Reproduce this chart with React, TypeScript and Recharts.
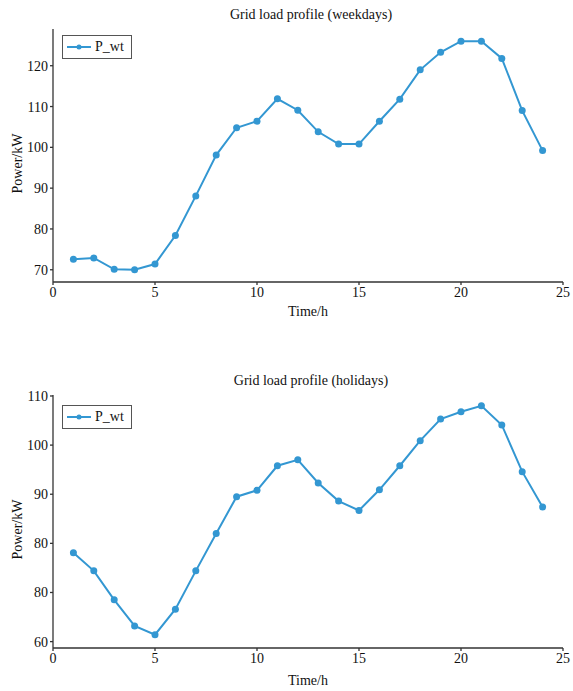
import React from "react";
import { LineChart, Line, XAxis, YAxis } from "recharts";

const hours = [1, 2, 3, 4, 5, 6, 7, 8, 9, 10, 11, 12, 13, 14, 15, 16, 17, 18, 19, 20, 21, 22, 23, 24];

const weekdayLoad = [
    72.6, 72.9, 70.1, 70.0, 71.4, 78.4, 88.1, 98.1, 104.8, 106.4, 111.9, 109.1,
    103.8, 100.8, 100.8, 106.4, 111.8, 119.0, 123.3, 126.0, 126.0, 121.8, 109.0, 99.2,
];

const holidayLoad = [
    78.1, 74.4, 68.5, 63.2, 61.4, 66.6, 74.4, 82.0, 89.5, 90.8, 95.8, 97.0,
    92.3, 88.6, 86.7, 90.9, 95.8, 100.9, 105.3, 106.8, 108.0, 104.1, 94.6, 87.4,
];

const xTicks = [0, 5, 10, 15, 20, 25];
const weekdayTicks = [70, 80, 90, 100, 110, 120];
const holidayTicks = [60, 70, 80, 90, 100, 110];
// the original figure prints the second tick of the holiday chart as "80"
const holidayTickLabels = ["60", "80", "80", "90", "100", "110"];

const LINE = "#3397d2"; // steel blue
const AXIS = "#333";
const FONT = "'Liberation Serif', 'DejaVu Serif', serif";

function LegendBox({ top }: { top: number }) {
    return (
        <div
            style={{
                position: "absolute",
                left: 62,
                top,
                border: "1px solid #555",
                background: "#fff",
                display: "flex",
                alignItems: "center",
                padding: "2px 7px 2px 4px",
                fontFamily: FONT,
                fontSize: 14,
                color: "#111",
                lineHeight: "18px",
            }}
        >
            <svg width={24} height={10} style={{ marginRight: 4 }}>
                <line x1={0} y1={5} x2={24} y2={5} stroke={LINE} strokeWidth={2} />
                <circle cx={12} cy={5} r={2.5} fill={LINE} />
            </svg>
            P_wt
        </div>
    );
}

function LoadChart({
    title,
    values,
    ticks,
    tickLabels,
    domain,
    height,
    top,
    titleTop,
    legendTop,
    labelOffset,
}: {
    title: string;
    values: number[];
    ticks: number[];
    tickLabels?: string[];
    domain: [number, number];
    height: number;
    top: number;
    titleTop: number;
    legendTop: number;
    labelOffset: number;
}) {
    const data = hours.map((h, i) => ({ hour: h, P_wt: values[i] }));
    const tickStyle = { fontFamily: FONT, fontSize: 14, fill: "#111" };
    const plotHeight = 253;
    const bottom = height - top - plotHeight - 20;

    return (
        <div style={{ position: "relative", width: 573, height, fontFamily: FONT }}>
            <div
                style={{
                    position: "absolute",
                    left: 53,
                    width: 516,
                    top: titleTop,
                    textAlign: "center",
                    fontSize: 14,
                    lineHeight: "14px",
                    color: "#111",
                }}
            >
                {title}
            </div>
            <LineChart
                width={573}
                height={height}
                data={data}
                margin={{ top, right: 10, left: 0, bottom }}
                style={{ overflow: "visible" }}
            >
                <XAxis
                    dataKey="hour"
                    type="number"
                    domain={[0, 25]}
                    ticks={xTicks}
                    interval={0}
                    tick={tickStyle}
                    tickSize={3}
                    tickMargin={2}
                    height={20}
                    stroke={AXIS}
                    strokeWidth={1.3}
                    label={{
                        value: "Time/h",
                        position: "bottom",
                        offset: labelOffset,
                        style: { fontFamily: FONT, fontSize: 14, fill: "#111" },
                    }}
                />
                <XAxis xAxisId="top" orientation="top" dataKey="hour" type="number" domain={[0, 25]} tick={false} tickLine={false} height={0} stroke={AXIS} strokeWidth={1.3} />
                <YAxis
                    domain={domain}
                    ticks={ticks}
                    interval={0}
                    allowDataOverflow
                    tick={tickStyle}
                    tickSize={3}
                    tickMargin={2}
                    width={53}
                    stroke={AXIS}
                    strokeWidth={1.3}
                    tickFormatter={(v: number, i: number) => (tickLabels ? tickLabels[i] : String(v))}
                    label={{
                        value: "Power/kW",
                        angle: -90,
                        position: "center",
                        dx: -9,
                        dy: 8,
                        style: { fontFamily: FONT, fontSize: 14, fill: "#111" },
                    }}
                />
                <YAxis yAxisId="right" orientation="right" domain={domain} tick={false} tickLine={false} width={0} stroke={AXIS} strokeWidth={1.3} />
                <Line
                    dataKey="P_wt"
                    stroke={LINE}
                    strokeWidth={2}
                    dot={{ r: 3.5, fill: LINE, stroke: LINE, strokeWidth: 0 }}
                    isAnimationActive={false}
                />
            </LineChart>
            <LegendBox top={legendTop} />
        </div>
    );
}

export default function App() {
    return (
        <div style={{ position: "absolute", left: 0, top: 0, width: 573, height: 691, background: "#fff" }}>
            <LoadChart
                title="Grid load profile (weekdays)"
                values={weekdayLoad}
                ticks={weekdayTicks}
                domain={[67, 129]}
                height={345}
                top={29}
                titleTop={8}
                legendTop={35}
                labelOffset={4}
            />
            <LoadChart
                title="Grid load profile (holidays)"
                values={holidayLoad}
                ticks={holidayTicks}
                tickLabels={holidayTickLabels}
                domain={[58.7, 110.2]}
                height={346}
                top={50}
                titleTop={29}
                legendTop={60}
                labelOffset={7}
            />
        </div>
    );
}
